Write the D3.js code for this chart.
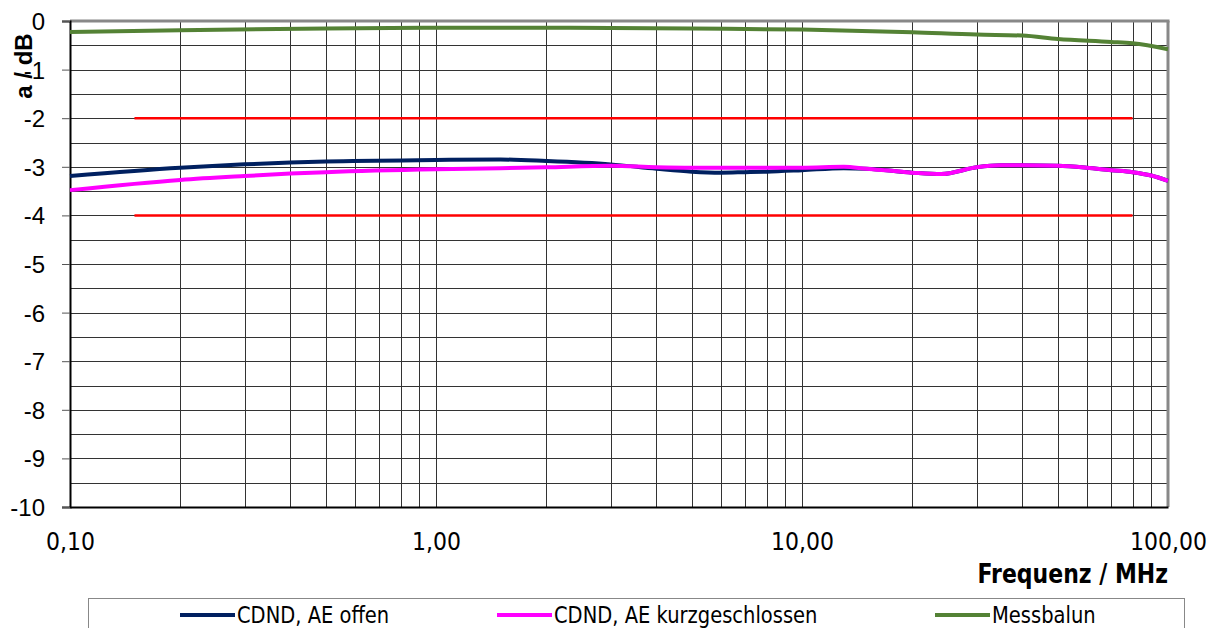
<!DOCTYPE html>
<html>
<head>
<meta charset="utf-8">
<script src="https://cdn.jsdelivr.net/npm/d3@7"></script>
<style>
  body { margin: 0; background: #fff; }
  text { font-family: "DejaVu Sans", Verdana, sans-serif; fill: #000; }
</style>
</head>
<body>
<svg id="chart" width="1216" height="628"></svg>
<script>
// frequencies in MHz
var freqCdnd = [0.1, 0.2, 0.3, 0.4, 0.5, 1, 1.5, 2, 3, 4, 5, 6, 7, 8, 10, 13, 15, 20, 24, 30, 35, 40, 50, 60, 70, 80, 90, 100]
var aeOffen = [-3.19, -3.02, -2.95, -2.91, -2.89, -2.86, -2.85, -2.88, -2.95, -3.04, -3.10, -3.12, -3.11, -3.10, -3.07, -3.03, -3.04, -3.12, -3.15, -3.01, -2.97, -2.97, -2.98, -3.02, -3.07, -3.11, -3.18, -3.29]
var aeKurz = [-3.48, -3.27, -3.19, -3.14, -3.11, -3.05, -3.03, -3.01, -2.98, -3.01, -3.02, -3.02, -3.02, -3.02, -3.02, -3.00, -3.04, -3.12, -3.15, -3.01, -2.97, -2.97, -2.98, -3.02, -3.07, -3.11, -3.18, -3.29]
var freqBalun = [0.1, 0.2, 0.5, 1, 2, 5, 10, 20, 30, 40, 50, 70, 80, 100]
var messbalun = [-0.225, -0.19, -0.155, -0.14, -0.14, -0.155, -0.176, -0.23, -0.28, -0.30, -0.37, -0.43, -0.46, -0.58]
// tolerance limits
var limitFreq = [0.15, 80]
var limitValues = [-2, -4]

var xTicks = [0.1, 1, 10, 100]
var yTicks = [0, -1, -2, -3, -4, -5, -6, -7, -8, -9, -10]
var seriesNames = ['CDND, AE offen', 'CDND, AE kurzgeschlossen', 'Messbalun']
var seriesColors = ['#002060', '#ff00ff', '#548235']

var plotLeft = 70, plotRight = 1168, plotTop = 21, plotBottom = 507

var svg = d3.select('#chart')

var x = d3.scaleLog().domain([0.1, 100]).range([plotLeft, plotRight])
var y = d3.scaleLinear().domain([-10, 0]).range([plotBottom, plotTop])

var fmt = function(d) { return d3.format('.2f')(d).replace('.', ',') }

// grid
var gridX = []
for (var dec = 0.1; dec < 100; dec *= 10) {
    for (var k = 1; k <= 9; k++) gridX.push(+(dec * k).toPrecision(3))
}
svg.append('g').selectAll('line')
    .data(gridX.slice(1))
    .enter()
    .append('line')
    .attr('x1', function(d) { return Math.round(x(d)) + 0.5 })
    .attr('x2', function(d) { return Math.round(x(d)) + 0.5 })
    .attr('y1', plotTop).attr('y2', plotBottom)
    .attr('stroke', '#333').attr('stroke-width', 1)

var hGrid = d3.range(-9.5, 0.01, 0.5)
svg.append('g').selectAll('line')
    .data(hGrid)
    .enter()
    .append('line')
    .attr('x1', plotLeft).attr('x2', plotRight)
    .attr('y1', function(d) { return Math.round(y(d)) + 0.5 })
    .attr('y2', function(d) { return Math.round(y(d)) + 0.5 })
    .attr('stroke', '#333').attr('stroke-width', 1)

// border top / right
svg.append('line').attr('x1', plotLeft).attr('x2', plotRight + 1.5).attr('y1', plotTop).attr('y2', plotTop)
    .attr('stroke', '#888').attr('stroke-width', 3)
svg.append('line').attr('x1', plotRight).attr('x2', plotRight).attr('y1', plotTop).attr('y2', plotBottom)
    .attr('stroke', '#888').attr('stroke-width', 3)

// axes
var yAxis = svg.append('g')
    .attr('transform', 'translate(' + plotLeft + ',0)')
    .call(d3.axisLeft(y).tickValues(yTicks).tickSize(8).tickPadding(17).tickFormat(d3.format('d')))
yAxis.select('.domain').attr('stroke', '#000').attr('stroke-width', 2)
yAxis.selectAll('.tick line').attr('stroke', '#555')
yAxis.selectAll('text')
    .style('font-family', '"Liberation Sans", Arial, sans-serif')
    .style('font-size', '24px')
    .attr('dy', '0.35em')
    .text(function(d) { return d3.format('d')(d).replace('\u2212', '-') })

var xAxis = svg.append('g')
    .attr('transform', 'translate(0,' + plotBottom + ')')
    .call(d3.axisBottom(x).tickValues(xTicks).tickSize(0).tickFormat(fmt))
xAxis.select('.domain').attr('stroke', '#000').attr('stroke-width', 2)
xAxis.selectAll('text')
    .style('font-size', '22px')
    .attr('y', 0).attr('dy', 0)
    .attr('transform', 'translate(0,43) scale(1,1.15)')

// axis titles
svg.append('text')
    .attr('transform', 'translate(32,66) rotate(-90)')
    .attr('text-anchor', 'middle')
    .style('font-family', '"Liberation Sans", Arial, sans-serif')
    .style('font-size', '24px').style('font-weight', 'bold')
    .text('a / dB')
svg.append('text')
    .attr('transform', 'translate(' + plotRight + ',583) scale(1,1.2)')
    .attr('text-anchor', 'end')
    .style('font-size', '22px').style('font-weight', 'bold')
    .text('Frequenz / MHz')

// limit lines
svg.append('g').selectAll('line')
    .data(limitValues)
    .enter()
    .append('line')
    .attr('x1', x(limitFreq[0])).attr('x2', x(limitFreq[1]))
    .attr('y1', function(d) { return y(d) }).attr('y2', function(d) { return y(d) })
    .attr('stroke', '#ff0000').attr('stroke-width', 2.5)

// curves
var line = d3.line()
    .x(function(d) { return x(d[0]) })
    .y(function(d) { return y(d[1]) })
    .curve(d3.curveMonotoneX)

var series = [d3.zip(freqCdnd, aeOffen), d3.zip(freqCdnd, aeKurz), d3.zip(freqBalun, messbalun)]
svg.append('g').selectAll('path')
    .data(series)
    .enter()
    .append('path')
    .attr('d', line)
    .attr('fill', 'none')
    .attr('stroke', function(d, i) { return seriesColors[i] })
    .attr('stroke-width', 4)
    .attr('stroke-linejoin', 'round')

// legend
svg.append('rect')
    .attr('x', 88.5).attr('y', 598.5).attr('width', 1096).attr('height', 40)
    .attr('fill', '#fff').attr('stroke', '#888').attr('stroke-width', 1)

var legendX = [180, 497, 935]
var legendItems = svg.append('g').selectAll('g')
    .data(seriesNames)
    .enter()
    .append('g')
    .attr('transform', function(d, i) { return 'translate(' + legendX[i] + ',0)' })
legendItems.append('line')
    .attr('x1', 0).attr('x2', 55).attr('y1', 615).attr('y2', 615)
    .attr('stroke', function(d, i) { return seriesColors[i] })
    .attr('stroke-width', 4)
legendItems.append('text')
    .attr('transform', 'translate(57,623) scale(1,1.22)')
    .style('font-size', '19.5px')
    .text(function(d) { return d })
</script>
</body>
</html>
